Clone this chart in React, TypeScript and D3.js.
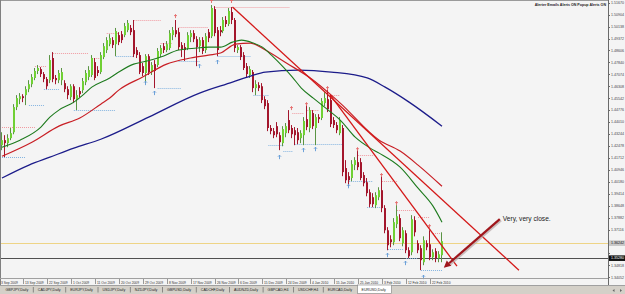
import React from 'react';
import * as d3 from 'd3';

const W = 625;
const H = 294;

// ---- Candle data (EURUSD Daily, 3 Sep 2009 .. 25 Feb 2010) ----
const opens = [
  1.4253, 1.4285, 1.4266, 1.4298, 1.4336, 1.4497, 1.4548, 1.4567, 1.4574, 1.4612,
  1.4644, 1.4684, 1.4729, 1.4741, 1.4709, 1.4677, 1.4670, 1.4812, 1.4684, 1.4670,
  1.4670, 1.4651, 1.4612, 1.4561, 1.4631, 1.4548, 1.4600, 1.4606, 1.4657, 1.4690,
  1.4703, 1.4786, 1.4735, 1.4722, 1.4818, 1.4863, 1.4901, 1.4927, 1.4901, 1.4959,
  1.4965, 1.4959, 1.4991, 1.5005, 1.4991, 1.4863, 1.4831, 1.4760, 1.4716, 1.4824,
  1.4722, 1.4773, 1.4767, 1.4837, 1.4888, 1.4863, 1.4876, 1.4959, 1.4991, 1.4978,
  1.4895, 1.4882, 1.4876, 1.4946, 1.4972, 1.4933, 1.4888, 1.4927, 1.4863, 1.4978,
  1.4952, 1.5126, 1.4991, 1.4991, 1.4985, 1.5056, 1.5030, 1.5107, 1.5056, 1.4863,
  1.4882, 1.4831, 1.4760, 1.4703, 1.4722, 1.4619, 1.4638, 1.4631, 1.4548, 1.4523,
  1.4363, 1.4343, 1.4375, 1.4317, 1.4266, 1.4330, 1.4414, 1.4363, 1.4349, 1.4336,
  1.4298, 1.4317, 1.4420, 1.4363, 1.4459, 1.4363, 1.4433, 1.4427, 1.4523, 1.4548,
  1.4542, 1.4414, 1.4382, 1.4330, 1.4363, 1.4106, 1.4054, 1.4042, 1.4125, 1.4144,
  1.4144, 1.4061, 1.4015, 1.3951, 1.3919, 1.3868, 1.3919, 1.3964, 1.3849, 1.3707,
  1.3649, 1.3630, 1.3746, 1.3785, 1.3624, 1.3688, 1.3579, 1.3566, 1.3772, 1.3624,
  1.3592, 1.3502, 1.3624, 1.3617, 1.3534, 1.3573, 1.3528, 1.3547,
];
const highs = [
  1.4336, 1.4317, 1.4323, 1.4363, 1.4516, 1.4574, 1.4587, 1.4580, 1.4631, 1.4670,
  1.4709, 1.4748, 1.4767, 1.4754, 1.4722, 1.4690, 1.4831, 1.4850, 1.4703, 1.4735,
  1.4748, 1.4670, 1.4631, 1.4644, 1.4644, 1.4606, 1.4625, 1.4684, 1.4735, 1.4760,
  1.4831, 1.4812, 1.4760, 1.4850, 1.4908, 1.4946, 1.4965, 1.4946, 1.5005, 1.4978,
  1.4985, 1.5037, 1.5056, 1.5024, 1.5056, 1.4882, 1.4850, 1.4780, 1.4837, 1.4837,
  1.4786, 1.4799, 1.4876, 1.4895, 1.4908, 1.4921, 1.4991, 1.5011, 1.5056, 1.5005,
  1.4914, 1.4908, 1.4978, 1.4991, 1.4991, 1.4952, 1.4946, 1.4946, 1.4972, 1.4998,
  1.5152, 1.5145, 1.5011, 1.5017, 1.5075, 1.5081, 1.5133, 1.5139, 1.5069, 1.4895,
  1.4895, 1.4850, 1.4780, 1.4760, 1.4735, 1.4670, 1.4657, 1.4651, 1.4567, 1.4542,
  1.4382, 1.4363, 1.4401, 1.4336, 1.4375, 1.4395, 1.4478, 1.4382, 1.4369, 1.4363,
  1.4349, 1.4433, 1.4510, 1.4497, 1.4478, 1.4452, 1.4452, 1.4555, 1.4593, 1.4606,
  1.4574, 1.4433, 1.4401, 1.4433, 1.4382, 1.4157, 1.4080, 1.4157, 1.4176, 1.4221,
  1.4170, 1.4080, 1.4042, 1.3970, 1.3945, 1.3951, 1.3983, 1.4054, 1.3868, 1.3727,
  1.3675, 1.3785, 1.3868, 1.3810, 1.3727, 1.3707, 1.3598, 1.3804, 1.3797, 1.3643,
  1.3611, 1.3668, 1.3643, 1.3707, 1.3585, 1.3592, 1.3573, 1.3694,
];
const lows = [
  1.4221, 1.4176, 1.4240, 1.4285, 1.4323, 1.4478, 1.4516, 1.4529, 1.4510, 1.4593,
  1.4625, 1.4670, 1.4709, 1.4690, 1.4657, 1.4612, 1.4651, 1.4657, 1.4644, 1.4651,
  1.4638, 1.4593, 1.4548, 1.4542, 1.4523, 1.4478, 1.4561, 1.4587, 1.4638, 1.4670,
  1.4690, 1.4670, 1.4696, 1.4709, 1.4805, 1.4844, 1.4888, 1.4876, 1.4824, 1.4895,
  1.4908, 1.4946, 1.4978, 1.4959, 1.4818, 1.4812, 1.4709, 1.4696, 1.4651, 1.4703,
  1.4703, 1.4619, 1.4754, 1.4818, 1.4844, 1.4850, 1.4863, 1.4927, 1.4946, 1.4863,
  1.4818, 1.4793, 1.4863, 1.4914, 1.4914, 1.4760, 1.4850, 1.4837, 1.4844, 1.4914,
  1.4940, 1.4952, 1.4824, 1.4952, 1.4972, 1.5011, 1.5017, 1.5030, 1.4850, 1.4844,
  1.4799, 1.4735, 1.4690, 1.4684, 1.4593, 1.4574, 1.4600, 1.4523, 1.4484, 1.4343,
  1.4323, 1.4298, 1.4304, 1.4221, 1.4246, 1.4304, 1.4330, 1.4298, 1.4253, 1.4259,
  1.4266, 1.4253, 1.4349, 1.4336, 1.4356, 1.4253, 1.4395, 1.4414, 1.4503, 1.4465,
  1.4369, 1.4363, 1.4330, 1.4317, 1.4054, 1.4009, 1.3989, 1.4022, 1.4093, 1.4093,
  1.4028, 1.3989, 1.3925, 1.3855, 1.3855, 1.3849, 1.3900, 1.3823, 1.3688, 1.3579,
  1.3598, 1.3611, 1.3721, 1.3637, 1.3604, 1.3560, 1.3528, 1.3547, 1.3668, 1.3560,
  1.3451, 1.3483, 1.3579, 1.3515, 1.3515, 1.3502, 1.3502, 1.3502,
];
const closes = [
  1.4285, 1.4266, 1.4298, 1.4330, 1.4497, 1.4555, 1.4567, 1.4555, 1.4612, 1.4644,
  1.4690, 1.4729, 1.4748, 1.4709, 1.4677, 1.4631, 1.4799, 1.4677, 1.4670, 1.4716,
  1.4722, 1.4612, 1.4574, 1.4631, 1.4548, 1.4574, 1.4580, 1.4664, 1.4716, 1.4735,
  1.4812, 1.4684, 1.4716, 1.4831, 1.4888, 1.4927, 1.4940, 1.4895, 1.4985, 1.4914,
  1.4927, 1.5017, 1.5037, 1.4978, 1.4837, 1.4831, 1.4722, 1.4716, 1.4824, 1.4722,
  1.4767, 1.4729, 1.4857, 1.4876, 1.4863, 1.4901, 1.4972, 1.4991, 1.4965, 1.4882,
  1.4869, 1.4863, 1.4959, 1.4972, 1.4933, 1.4882, 1.4927, 1.4857, 1.4952, 1.4940,
  1.5133, 1.4972, 1.4863, 1.4978, 1.5056, 1.5030, 1.5114, 1.5056, 1.4876, 1.4882,
  1.4818, 1.4748, 1.4709, 1.4741, 1.4619, 1.4644, 1.4619, 1.4542, 1.4503, 1.4363,
  1.4343, 1.4317, 1.4323, 1.4272, 1.4356, 1.4375, 1.4349, 1.4323, 1.4317, 1.4285,
  1.4330, 1.4408, 1.4369, 1.4478, 1.4375, 1.4433, 1.4420, 1.4536, 1.4555, 1.4484,
  1.4388, 1.4382, 1.4349, 1.4414, 1.4080, 1.4028, 1.4028, 1.4131, 1.4157, 1.4112,
  1.4042, 1.4009, 1.3945, 1.3874, 1.3874, 1.3932, 1.3964, 1.3849, 1.3707, 1.3611,
  1.3630, 1.3759, 1.3797, 1.3656, 1.3707, 1.3579, 1.3540, 1.3778, 1.3694, 1.3579,
  1.3515, 1.3643, 1.3598, 1.3534, 1.3566, 1.3528, 1.3553, 1.3637,
];

// ---- Moving averages: [bar index, price] ----
const maFast: [number, number][] = [
  [0, 1.4240], [6, 1.4285], [13, 1.4369], [16, 1.4433], [19, 1.4478], [24, 1.4529],
  [27, 1.4574], [30, 1.4625], [36, 1.4684], [39, 1.4722], [44, 1.4773], [47, 1.4786],
  [53, 1.4818], [59, 1.4863], [65, 1.4876], [69, 1.4882], [73, 1.4882], [77, 1.4914],
  [80, 1.4927], [84, 1.4908], [87, 1.4882], [90, 1.4831], [94, 1.4754], [97, 1.4690],
  [100, 1.4619], [104, 1.4555], [109, 1.4478], [113, 1.4414], [118, 1.4304], [123, 1.4234],
  [126, 1.4202], [133, 1.4112], [139, 1.3977], [144, 1.3862], [147, 1.3759],
];
const maMid: [number, number][] = [
  [0, 1.4182], [10, 1.4272], [19, 1.4375], [26, 1.4427], [33, 1.4516], [36, 1.4555],
  [39, 1.4606], [47, 1.4690], [55, 1.4773], [63, 1.4812], [69, 1.4831], [73, 1.4844],
  [78, 1.4901], [83, 1.4908], [88, 1.4863], [95, 1.4780], [103, 1.4684], [113, 1.4523],
  [126, 1.4285], [133, 1.4215], [139, 1.4125], [147, 1.3989],
];
const maSlow: [number, number][] = [
  [0, 1.4042], [9, 1.4125], [16, 1.4176], [24, 1.4234], [33, 1.4291], [49, 1.4433],
  [66, 1.4587], [77, 1.4657], [83, 1.4696], [88, 1.4722], [99, 1.4735], [110, 1.4722],
  [122, 1.4684], [128, 1.4625], [136, 1.4529], [147, 1.4375],
];

// ---- Trend lines: [bar index, price] ----
const trendA: [number, number][] = [[77, 1.5139], [172.7, 1.3451]];
const trendB: [number, number][] = [[109.7, 1.4574], [152, 1.3477]];

// ---- Fractal levels: [fromBar, toBar, price] ----
const resistanceLevels: [number, number, number][] = [
  [0, 11, 1.4369], [11, 15, 1.4760], [17, 29, 1.4844], [30, 33, 1.4812], [35, 39, 1.4972],
  [44, 53, 1.5056], [53, 57, 1.4908], [59, 69, 1.5011], [71, 96, 1.5139], [97, 101, 1.4459],
  [102, 106, 1.4478], [109, 113, 1.4574], [119, 124, 1.4189], [127, 132, 1.4022],
  [132, 138, 1.3836], [139, 143, 1.3791], [144, 147, 1.3688],
];
const supportLevels: [number, number, number][] = [
  [0, 8, 1.4176], [9, 14, 1.4510], [14, 19, 1.4612], [24, 38, 1.4478], [38, 44, 1.4824],
  [52, 60, 1.4619], [59, 66, 1.4793], [72, 83, 1.4824], [84, 89, 1.4574], [89, 94, 1.4253],
  [94, 97, 1.4215], [98, 114, 1.4259], [116, 124, 1.4022], [122, 127, 1.3855],
  [129, 134, 1.3585], [135, 139, 1.3528], [140, 147, 1.3451],
];
const resistanceMarks: [number, number][] = [
  [58, 1.5081], [70, 1.5178], [77, 1.5178], [97, 1.4491], [102, 1.4516], [109, 1.4619],
  [119, 1.4227], [127, 1.4061], [132, 1.3881], [143, 1.3733],
];
const supportMarks: [number, number][] = [
  [48, 1.4651], [51, 1.4587], [66, 1.4760], [72, 1.4786], [93, 1.4176], [101, 1.4221],
  [105, 1.4227], [116, 1.3989], [129, 1.3547], [135, 1.3496], [141, 1.3406],
];

// ---- Axes ----
const priceTicks = [
  1.5167, 1.50904, 1.50138, 1.49372, 1.48606, 1.4784, 1.47074, 1.46308, 1.45542, 1.44776,
  1.4401, 1.43244, 1.42478, 1.41712, 1.40946, 1.4018, 1.39414, 1.38648, 1.37882, 1.37116,
  1.3635, 1.35584, 1.34818, 1.34052,
];
const timeLabels = [
  '3 Sep 2009', '13 Sep 2009', '22 Sep 2009', '1 Oct 2009', '11 Oct 2009', '20 Oct 2009',
  '29 Oct 2009', '8 Nov 2009', '17 Nov 2009', '26 Nov 2009', '6 Dec 2009', '15 Dec 2009',
  '24 Dec 2009', '4 Jan 2010', '15 Jan 2010', '25 Jan 2010', '3 Feb 2010', '12 Feb 2010',
  '22 Feb 2010',
];
const timeLabelStep = 8;
const tabs = [
  'GBPJPY,Daily', 'CADJPY,Daily', 'EURJPY,Daily', 'USDJPY,Daily', 'NZDJPY,Daily',
  'GBPUSD,Daily', 'CADCHF,Daily', 'AUDNZD,Daily', 'GBPCAD,H4', 'USDCHF,H4',
  'EURCAD,Daily', 'EURUSD,Daily',
];
const activeTab = 'EURUSD,Daily';
const yellowLine = 1.36242;
const bidLine = 1.3528;
const alertText = 'Alerter   Emails Alerts ON   Popup Alerts ON';
const noteText = 'Very, very close.';
const noteAt: [number, number] = [167.3, 1.3766];
const arrowFrom: [number, number] = [166.3, 1.3778];
const arrowTo: [number, number] = [147.6, 1.3466];

const FONT = '"Liberation Sans", Arial, sans-serif';

function measure(s: string, size: number): number {
  try {
    const c = document.createElement('canvas').getContext('2d');
    if (c) {
      c.font = `${size * 10}px "Liberation Sans", Arial`;
      return c.measureText(s).width / 10;
    }
  } catch (e) {}
  return s.length * size * 0.55;
}

export default function App() {
  const x = d3.scaleLinear().domain([0, 147]).range([2, 442]);
  const y = d3.scaleLinear().domain([1.34052, 1.5167]).range([277.3, 2.7]);
  const plotRight = 608;

  const line = d3
    .line<[number, number]>()
    .x((d) => x(d[0]))
    .y((d) => y(d[1]))
    .curve(d3.curveMonotoneX);
  const straight = d3
    .line<[number, number]>()
    .x((d) => x(d[0]))
    .y((d) => y(d[1]));

  const bullBody = '#70d034';
  const bullWick = '#5a9444';
  const bear = '#a3162c';

  // tabs layout
  const tabSize = 3.6;
  const tabPad = 9.6;
  let cur = 3;
  const tabBoxes = tabs.map((t) => {
    const w = measure(t, tabSize) + tabPad;
    const b = { t, x0: cur, w };
    cur += w;
    return b;
  });

  const ax = x(arrowTo[0]);
  const ay = y(arrowTo[1]);
  const fx = x(arrowFrom[0]);
  const fy = y(arrowFrom[1]);
  const ang = Math.atan2(ay - fy, ax - fx);
  const headLen = 7;
  const headW = 3.5;
  const bx = ax - headLen * Math.cos(ang);
  const by = ay - headLen * Math.sin(ang);
  const px = -Math.sin(ang) * headW;
  const py = Math.cos(ang) * headW;
  const head = `M${ax},${ay} L${bx + px},${by + py} L${bx - px},${by - py} Z`;

  const boxYs = [y(yellowLine), y(bidLine)];
  const visibleTicks = priceTicks.filter((p) => boxYs.every((b) => Math.abs(y(p) - b) > 5));

  return (
    <svg
      width={W}
      height={H}
      viewBox={`0 0 ${W} ${H}`}
      style={{ position: 'absolute', left: 0, top: 0, display: 'block' }}
      fontFamily={FONT}
    >
      <rect x={0} y={0} width={W} height={H} fill="#f4f4f4" />
      {/* frame */}
      <line x1={0} x2={W} y1={0.5} y2={0.5} stroke="#9a9a9a" />
      <line x1={0.5} x2={0.5} y1={0} y2={285} stroke="#808080" />

      {/* horizontal lines */}
      <line x1={1} x2={plotRight} y1={Math.round(y(yellowLine)) + 0.5} y2={Math.round(y(yellowLine)) + 0.5} stroke="#eed486" strokeWidth={1} />
      <line x1={1} x2={plotRight} y1={Math.round(y(bidLine)) + 0.5} y2={Math.round(y(bidLine)) + 0.5} stroke="#505050" strokeWidth={1} />

      {/* fractal levels */}
      {resistanceLevels.map((d, i) => (
        <line key={'rl' + i} x1={x(d[0])} x2={x(d[1])} y1={Math.round(y(d[2])) + 0.5} y2={Math.round(y(d[2])) + 0.5}
          stroke="#f09aa0" strokeWidth={1} strokeDasharray="1 1" />
      ))}
      {supportLevels.map((d, i) => (
        <line key={'sl' + i} x1={x(d[0])} x2={x(d[1])} y1={Math.round(y(d[2])) + 0.5} y2={Math.round(y(d[2])) + 0.5}
          stroke="#84b4e0" strokeWidth={1} strokeDasharray="1 1" />
      ))}

      {/* candles */}
      {opens.map((o, i) => {
        const c = closes[i];
        const cx = Math.round(x(i));
        const bull = c >= o;
        const top = y(Math.max(o, c));
        const bot = y(Math.min(o, c));
        return (
          <g key={'c' + i}>
            <rect x={cx - 1} y={y(highs[i])} width={1} height={Math.max(1, y(lows[i]) - y(highs[i]))} fill={bull ? bullWick : bear} />
            <rect x={cx - 1} y={top} width={2} height={Math.max(1, bot - top)} fill={bull ? bullBody : bear} />
          </g>
        );
      })}

      {/* moving averages */}
      <path d={line(maSlow) || ''} fill="none" stroke="#1c1c8a" strokeWidth={1.3} />
      <path d={line(maMid) || ''} fill="none" stroke="#c81e24" strokeWidth={1.2} />
      <path d={line(maFast) || ''} fill="none" stroke="#1d7a1d" strokeWidth={1.1} />

      {/* trend lines */}
      <path d={straight(trendA) || ''} fill="none" stroke="#d41818" strokeWidth={1.3} />
      <path d={straight(trendB) || ''} fill="none" stroke="#d41818" strokeWidth={1.3} />

      {/* fractal arrows */}
      {resistanceMarks.map((d, i) => {
        const cx = Math.round(x(d[0])) - 0.5;
        const cy = y(d[1]);
        return (
          <path key={'rm' + i} d={`M${cx},${cy - 2} L${cx},${cy + 2} M${cx - 1.5},${cy - 0.5} L${cx + 1.5},${cy - 0.5}`}
            stroke="#e46a6a" strokeWidth={0.9} fill="none" />
        );
      })}
      {supportMarks.map((d, i) => {
        const cx = Math.round(x(d[0])) - 0.5;
        const cy = y(d[1]);
        return (
          <path key={'sm' + i} d={`M${cx},${cy - 2} L${cx},${cy + 2} M${cx - 1.5},${cy - 0.5} L${cx},${cy - 2} L${cx + 1.5},${cy - 0.5}`}
            stroke="#5f98d6" strokeWidth={0.9} fill="none" />
        );
      })}

      {/* annotation arrow */}
      <line x1={fx + 1.2} y1={fy + 1.2} x2={bx + 1.2} y2={by + 1.2} stroke="#b8a8a8" strokeWidth={2.4} opacity={0.7} />
      <line x1={fx} y1={fy} x2={bx} y2={by} stroke="#a0161c" strokeWidth={2.2} />
      <path d={head} fill="#a0161c" />
      <text x={x(noteAt[0])} y={y(noteAt[1])} fontSize={6.6} fill="#222">{noteText}</text>

      {/* alert text */}
      <text x={606} y={6} fontSize={3.6} fill="#222" textAnchor="end" fontWeight="bold">{alertText}</text>

      {/* price axis */}
      <rect x={plotRight + 0.5} y={0} width={W - plotRight} height={285} fill="#f4f4f4" />
      <line x1={plotRight + 0.5} x2={plotRight + 0.5} y1={0} y2={285} stroke="#6a6a6a" />
      {priceTicks.map((p, i) => (
        <line key={'ptl' + i} x1={plotRight} x2={plotRight + 2} y1={Math.round(y(p)) + 0.5} y2={Math.round(y(p)) + 0.5} stroke="#6a6a6a" />
      ))}
      {visibleTicks.map((p, i) => (
        <text key={'pt' + i} x={plotRight + 3} y={y(p) + 1.3} fontSize={3.6} fill="#444">{p.toFixed(5)}</text>
      ))}
      <rect x={plotRight + 1} y={y(yellowLine) - 2.8} width={W - plotRight - 1} height={5.6} fill="#c8c8c8" />
      <text x={plotRight + 3} y={y(yellowLine) + 1.3} fontSize={3.6} fill="#111">{yellowLine.toFixed(5)}</text>
      <rect x={plotRight + 1} y={y(bidLine) - 2.8} width={W - plotRight - 1} height={5.6} fill="#111" />
      <text x={plotRight + 3} y={y(bidLine) + 1.3} fontSize={3.6} fill="#fff">{bidLine.toFixed(5)}</text>

      {/* time axis */}
      <line x1={0} x2={plotRight} y1={278.5} y2={278.5} stroke="#a0a0a0" />
      {timeLabels.map((t, k) => {
        const xi = Math.round(x(k * timeLabelStep));
        return (
          <g key={'tl' + k}>
            <line x1={xi - 2.5} x2={xi - 2.5} y1={279} y2={284} stroke="#999" />
            <text x={xi - 1} y={283.6} fontSize={3.3} fill="#333">{t}</text>
          </g>
        );
      })}

      {/* tab bar */}
      <rect x={0} y={285} width={W} height={9} fill="#d4d0c8" />
      <line x1={0} x2={W} y1={285.5} y2={285.5} stroke="#a0a0a0" />
      {tabBoxes.map((b, i) => {
        const active = b.t === activeTab;
        return (
          <g key={'tab' + i}>
            {active && (
              <rect x={b.x0 - 1.5} y={285} width={b.w} height={8.5} fill="#ffffff" stroke="#808080" strokeWidth={0.6} />
            )}
            {!active && i > 0 && tabs[i - 1] !== activeTab && (
              <line x1={b.x0 - 2} x2={b.x0 - 2} y1={287} y2={292.5} stroke="#555" strokeWidth={0.6} />
            )}
            <text x={b.x0 + 2.5} y={291.2} fontSize={tabSize} fill="#222">{b.t}</text>
          </g>
        );
      })}
      <path d="M614.5,289 L612.5,290.5 L614.5,292 Z" fill="#666" />
      <path d="M620,289 L622,290.5 L620,292 Z" fill="#666" />
    </svg>
  );
}
